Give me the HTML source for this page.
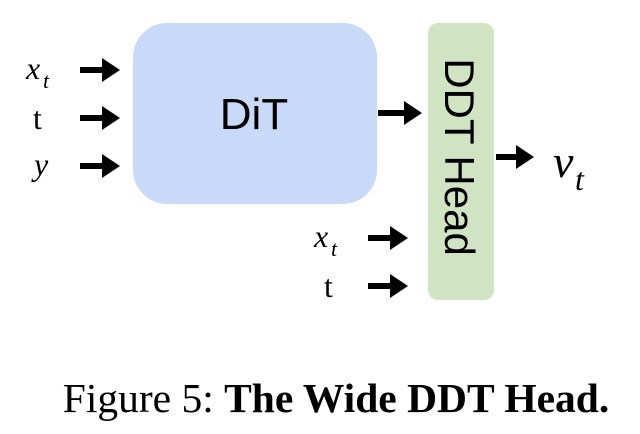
<!DOCTYPE html>
<html><head><style>
body{margin:0;width:640px;height:434px;background:#fff;overflow:hidden;position:relative;font-family:"Liberation Sans",sans-serif}
.a{position:absolute}
</style></head><body>
<svg class="a" style="left:0;top:0" width="640" height="434">
<defs><marker id="m" markerWidth="4" markerHeight="4" refX="1" refY="2" orient="auto" markerUnits="strokeWidth"><path d="M0,0 L3,2 L0,4z" fill="#000"/></marker></defs>
<rect x="133" y="23" width="244" height="181" rx="34" fill="#c9daf8"/>
<rect x="428" y="23" width="66" height="277" rx="10" fill="#d0e3c3"/>
<g stroke="#000" stroke-width="6" fill="none">
<line x1="80" y1="70" x2="108" y2="70" marker-end="url(#m)"/>
<line x1="80" y1="118" x2="108" y2="118" marker-end="url(#m)"/>
<line x1="80" y1="166" x2="108" y2="166" marker-end="url(#m)"/>
<line x1="378" y1="113" x2="410" y2="113" marker-end="url(#m)"/>
<line x1="496" y1="157" x2="522" y2="157" marker-end="url(#m)"/>
<line x1="368" y1="238" x2="396" y2="238" marker-end="url(#m)"/>
<line x1="368" y1="286" x2="396" y2="286" marker-end="url(#m)"/>
</g>
<text x="254" y="129" font-size="44" text-anchor="middle" font-family="Liberation Sans">DiT</text>
<text transform="translate(445,157) rotate(90)" font-size="42" text-anchor="middle" font-family="Liberation Sans">DDT Head</text>
<g font-family="Liberation Serif" font-style="italic">
<text x="26" y="79" font-size="32">x</text><text x="43" y="88" font-size="22">t</text>
<text x="314" y="247" font-size="32">x</text><text x="331" y="256" font-size="22">t</text>
<text x="34" y="175" font-size="32">y</text>
<text x="553" y="177" font-size="46">v</text><text x="575" y="190" font-size="32">t</text>
</g>
<g font-family="Liberation Serif">
<text x="33" y="129" font-size="32">t</text>
<text x="324" y="297" font-size="32">t</text>
</g>
</svg>
<div class="a" style="left:16px;width:640px;top:374px;text-align:center;font-family:'Liberation Serif',serif;font-size:41.5px;line-height:48px">Figure 5: <b>The Wide DDT Head.</b></div>
</body></html>
